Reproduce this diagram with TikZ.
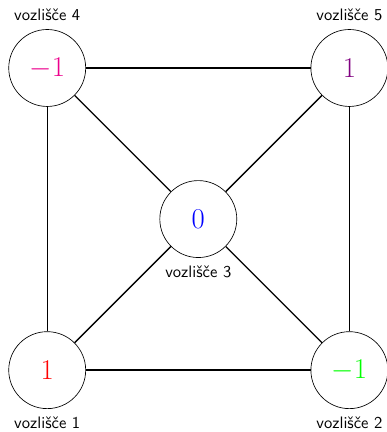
\documentclass[tikz,border=0pt]{standalone}
\usepackage{xcolor}
\usetikzlibrary{positioning}

\begin{document}
\begin{tikzpicture}[
  vozel/.style={draw,circle,minimum size=1.63cm,inner sep=0pt,font=\LARGE},
  lab/.style={font=\sffamily,label distance=0.05cm},
  pov/.style={thick}
]
\useasboundingbox (-1.0,-1.31) rectangle (7.18,7.84);
% Vozlisca
\node[vozel,label={[lab]below:vozlišče 1}] (v1) at (0,0)     {\textcolor{red}{$1$}};
\node[vozel,label={[lab]below:vozlišče 2}] (v2) at (6.4,0)   {\textcolor{green}{$-1$}};
\node[vozel,label={[lab]below:vozlišče 3}] (v3) at (3.2,3.2) {\textcolor{blue}{$0$}};
\node[vozel,label={[lab]above:vozlišče 4}] (v4) at (0,6.4)   {\textcolor{magenta}{$-1$}};
\node[vozel,label={[lab]above:vozlišče 5}] (v5) at (6.4,6.4) {\textcolor{violet}{$1$}};
% Povezave
\draw[pov] (v1) -- (v2);
\draw[pov] (v4) -- (v5);
\draw[pov] (v1) -- (v4);
\draw[pov] (v2) -- (v5);
\draw[pov] (v3) -- (v1);
\draw[pov] (v3) -- (v2);
\draw[pov] (v3) -- (v4);
\draw[pov] (v3) -- (v5);
\end{tikzpicture}
\end{document}
